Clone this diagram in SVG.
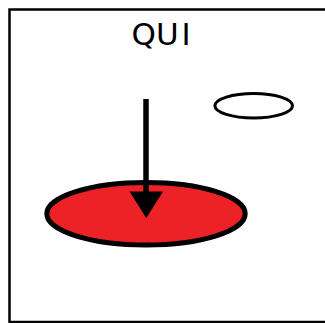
<svg xmlns="http://www.w3.org/2000/svg" width="325" height="323" viewBox="0 0 325 323">
<defs>
<style>
.frame{fill:#fff;stroke:#000;stroke-width:2.5}
.lbl{font-family:"DejaVu Sans",Verdana,sans-serif;font-size:31px;fill:#000}
</style>
</defs>
<rect class="frame" x="9.5" y="9.5" width="330" height="312.5"/>
<g id="title"><text class="lbl" x="131.5" y="44.5">QU<tspan dx="3">I</tspan></text></g>
<g id="small-ellipse"><ellipse cx="253.7" cy="105.7" rx="38.8" ry="12.2" fill="#fff" stroke="#000" stroke-width="3"/></g>
<g id="red-ellipse"><ellipse cx="146" cy="213.7" rx="99.2" ry="31.2" fill="#ec2227" stroke="#000" stroke-width="5"/></g>
<g id="connectors">
<line x1="146" y1="99" x2="146" y2="195" stroke="#000" stroke-width="5.5"/>
<polygon points="129.5,191.5 163,191.5 146.3,218" fill="#000"/>
</g>
</svg>
